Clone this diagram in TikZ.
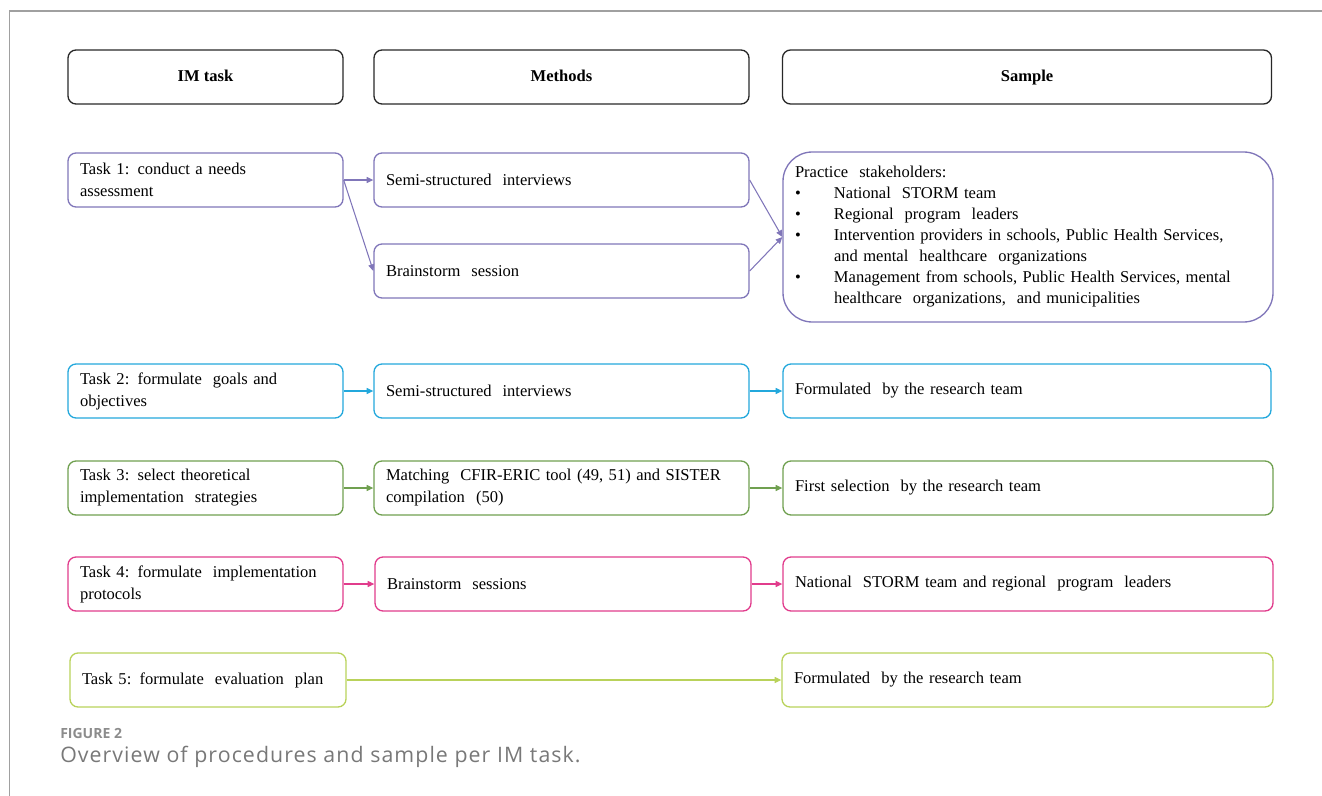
\documentclass[tikz,border=0pt]{standalone}
\usepackage{fontspec}
\setmainfont{Liberation Serif}
\newfontfamily\capfont[LetterSpace=5]{Open Sans}
\newfontfamily\capfontb{Open Sans}
\usetikzlibrary{arrows.meta}
\newlength{\pxu}\setlength{\pxu}{0.75pt}
\definecolor{cPur}{RGB}{128,118,185}
\definecolor{cCya}{RGB}{35,168,220}
\definecolor{cGrn}{RGB}{112,160,80}
\definecolor{cPnk}{RGB}{225,60,140}
\definecolor{cLim}{RGB}{185,210,90}
\definecolor{cHdr}{RGB}{40,40,40}
\definecolor{cFrame}{RGB}{160,160,160}
\definecolor{cCap}{RGB}{120,120,120}
\tikzset{
  x=0.75pt, y=-0.75pt,
  txt/.style={font=\fontsize{12.4}{16.5}\selectfont},
  box/.style={draw=#1, line width=1pt, rounded corners=6pt, txt,
    minimum height=54\pxu, inner xsep=12\pxu, inner ysep=2pt, align=left},
  hdr/.style={draw=cHdr, line width=1pt, rounded corners=6pt,
    font=\fontsize{12.4}{16.5}\selectfont\bfseries, minimum height=54\pxu, align=center},
  arr/.style={draw=#1, line width=0.8pt, -{Triangle[length=5pt,width=4.5pt]}},
}
\begin{document}
\begin{tikzpicture}
\useasboundingbox (0,0) rectangle (1322,796);
% frame
\draw[cFrame, line width=1.1pt] (9.5,796) -- (9.5,11) -- (1322,11);
% headers
\node[hdr, minimum width=275\pxu] (h1) at (205.5,77) {\strut IM task};
\node[hdr, minimum width=375\pxu] (h2) at (561.5,77) {\strut Methods};
\node[hdr, minimum width=489\pxu] (h3) at (1027,77) {\strut Sample};
% row 1
\node[box=cPur, text width=251\pxu] (t1) at (205.5,180) {Task 1: conduct a needs\\assessment};
\node[box=cPur, text width=351\pxu] (s1) at (561.5,180) {Semi-structured\ \ interviews};
\node[box=cPur, text width=351\pxu] (b1) at (561.5,271) {Brainstorm\ \ session};
\node[box=cPur, text width=466\pxu, rounded corners=22pt, minimum height=170\pxu,
      font=\fontsize{12.4}{15.75}\selectfont] (p1) at (1028,237)
 {Practice\ \ stakeholders:\\
  \makebox[39\pxu][l]{\textbullet}National\ \ STORM team\\
  \makebox[39\pxu][l]{\textbullet}Regional\ \ program\ \ leaders\\
  \makebox[39\pxu][l]{\textbullet}\makebox[412\pxu][s]{Intervention providers in schools, Public Health Services,}\\
  \hspace*{39\pxu}and mental\ \ healthcare\ \ organizations\\
  \makebox[39\pxu][l]{\textbullet}\makebox[412\pxu][s]{Management from schools, Public Health Services, mental}\\
  \hspace*{39\pxu}healthcare\ \ organizations,\ \ and municipalities};
\draw[arr=cPur] (t1.east) -- (s1.west);
\draw[arr=cPur] (t1.east) -- (b1.west);
\draw[arr=cPur] (s1.east) -- (p1.west);
\draw[arr=cPur] (b1.east) -- (p1.west);
% row 2
\node[box=cCya, text width=251\pxu] (t2) at (205.5,391) {Task 2: formulate\ \ goals and\\objectives};
\node[box=cCya, text width=351\pxu] (s2) at (561.5,391) {Semi-structured\ \ interviews};
\node[box=cCya, text width=464\pxu] (f2) at (1027,391) {Formulated\ \ by the research team};
\draw[arr=cCya] (t2) -- (s2);
\draw[arr=cCya] (s2) -- (f2);
% row 3
\node[box=cGrn, text width=251\pxu] (t3) at (205.5,488) {Task 3: select theoretical\\implementation\ \ strategies};
\node[box=cGrn, text width=351\pxu] (m3) at (561.5,488) {Matching\ \ CFIR-ERIC tool (49, 51) and SISTER\\compilation\ \ (50)};
\node[box=cGrn, text width=466\pxu] (f3) at (1028,488) {First selection\ \ by the research team};
\draw[arr=cGrn] (t3) -- (m3);
\draw[arr=cGrn] (m3) -- (f3);
% row 4
\node[box=cPnk, text width=251\pxu] (t4) at (205.5,584) {Task 4: formulate\ \ implementation\\protocols};
\node[box=cPnk, text width=352\pxu] (b4) at (563,584) {Brainstorm\ \ sessions};
\node[box=cPnk, text width=466\pxu] (n4) at (1028,584) {National\ \ STORM team and regional\ \ program\ \ leaders};
\draw[arr=cPnk] (t4) -- (b4);
\draw[arr=cPnk] (b4) -- (n4);
% row 5
\node[box=cLim, text width=252\pxu] (t5) at (208,680) {Task 5: formulate\ \ evaluation\ \ plan};
\node[box=cLim, text width=467\pxu] (f5) at (1027.5,680) {Formulated\ \ by the research team};
\draw[arr=cLim] (t5) -- (f5);
% caption
\node[anchor=west, inner sep=0pt, text=cCap!85, font=\capfontb\bfseries\fontsize{10.5}{12}\selectfont] (cap1) at (60,733) {FIGURE 2};
\node[anchor=west, inner sep=0pt, text=cCap, font=\capfont\fontsize{16}{18}\selectfont] (cap2) at (60,757) {Overview of procedures and sample per IM task.};
\end{tikzpicture}
\end{document}
